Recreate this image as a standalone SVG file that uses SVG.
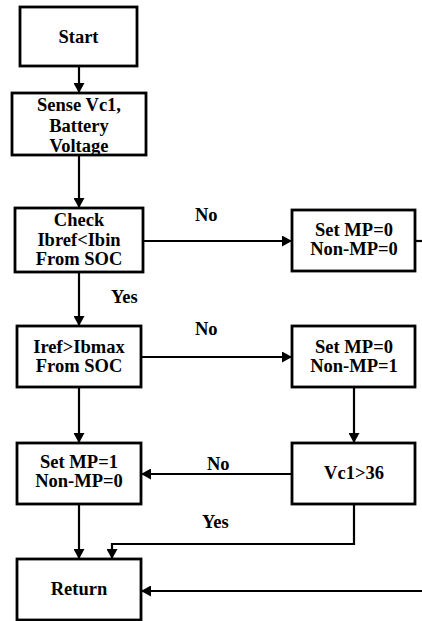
<svg xmlns="http://www.w3.org/2000/svg" width="422" height="621" viewBox="0 0 422 621">
  <defs>
    <marker id="ah" markerUnits="userSpaceOnUse" markerWidth="10" markerHeight="11" refX="10" refY="5.5" orient="auto">
      <path d="M0,0 L10,5.5 L0,11 z" fill="#000"/>
    </marker>
    <style>
      rect { fill: #fff; stroke: #000; stroke-width: 2.8; }
      text { font-weight: bold; font-size: 18.5px; fill: #000; }
      .c { text-anchor: middle; }
      .ln { fill: none; stroke: #000; stroke-width: 2.2; }
      .ar { marker-end: url(#ah); }
    </style>
  </defs>
  <rect x="0" y="0" width="422" height="621" style="stroke:none;fill:#fff"/>

  <g id="connectors">
    <path class="ln ar" d="M79,66 V93"/>
    <path class="ln ar" d="M79,155 V208"/>
    <path class="ln ar" d="M143,241 H292"/>
    <path class="ln" d="M415,241 H422"/>
    <path class="ln ar" d="M79,272 V326"/>
    <path class="ln ar" d="M141,357 H292"/>
    <path class="ln ar" d="M354,387 V443"/>
    <path class="ln ar" d="M292,474 H141"/>
    <path class="ln ar" d="M79,387 V443"/>
    <path class="ln ar" d="M79,504 V559"/>
    <path class="ln ar" d="M354,504 V544 H112 V559"/>
    <path class="ln ar" d="M422,591 H141"/>
    <g font-family="Liberation Serif, DejaVu Serif, Times New Roman, serif">
      <text x="195" y="221">No</text>
      <text x="111" y="303">Yes</text>
      <text x="195" y="335">No</text>
      <text x="207" y="470">No</text>
      <text x="202" y="528">Yes</text>
    </g>
  </g>

  <g font-family="Liberation Serif, DejaVu Serif, Times New Roman, serif">
  <g id="start">
    <rect x="20" y="7" width="117" height="59"/>
    <text class="c" x="78.5" y="43">Start</text>
  </g>
  <g id="sense">
    <rect x="12" y="93" width="134" height="62"/>
    <text class="c" x="79" y="111">Sense Vc1,</text>
    <text class="c" x="79" y="131.5">Battery</text>
    <text class="c" x="79" y="152">Voltage</text>
  </g>
  <g id="check">
    <rect x="15" y="208" width="128" height="64"/>
    <text class="c" x="79" y="226">Check</text>
    <text class="c" x="79" y="246">Ibref&lt;Ibin</text>
    <text class="c" x="79" y="265">From SOC</text>
  </g>
  <g id="set00">
    <rect x="292" y="210" width="123" height="61"/>
    <text class="c" x="354" y="236">Set MP=0</text>
    <text class="c" x="354" y="254.5">Non-MP=0</text>
  </g>
  <g id="iref">
    <rect x="17" y="326" width="124" height="61"/>
    <text class="c" x="79" y="353">Iref&gt;Ibmax</text>
    <text class="c" x="79" y="372">From SOC</text>
  </g>
  <g id="set01">
    <rect x="292" y="326" width="123" height="61"/>
    <text class="c" x="354" y="353">Set MP=0</text>
    <text class="c" x="354" y="372">Non-MP=1</text>
  </g>
  <g id="vc1">
    <rect x="292" y="443" width="123" height="61"/>
    <text class="c" x="354" y="479">Vc1&gt;36</text>
  </g>
  <g id="set10">
    <rect x="17" y="443" width="124" height="61"/>
    <text class="c" x="79" y="468">Set MP=1</text>
    <text class="c" x="79" y="487">Non-MP=0</text>
  </g>
  <g id="return">
    <rect x="17" y="559" width="124" height="61"/>
    <text class="c" x="79" y="595">Return</text>
  </g>
  </g>
</svg>
